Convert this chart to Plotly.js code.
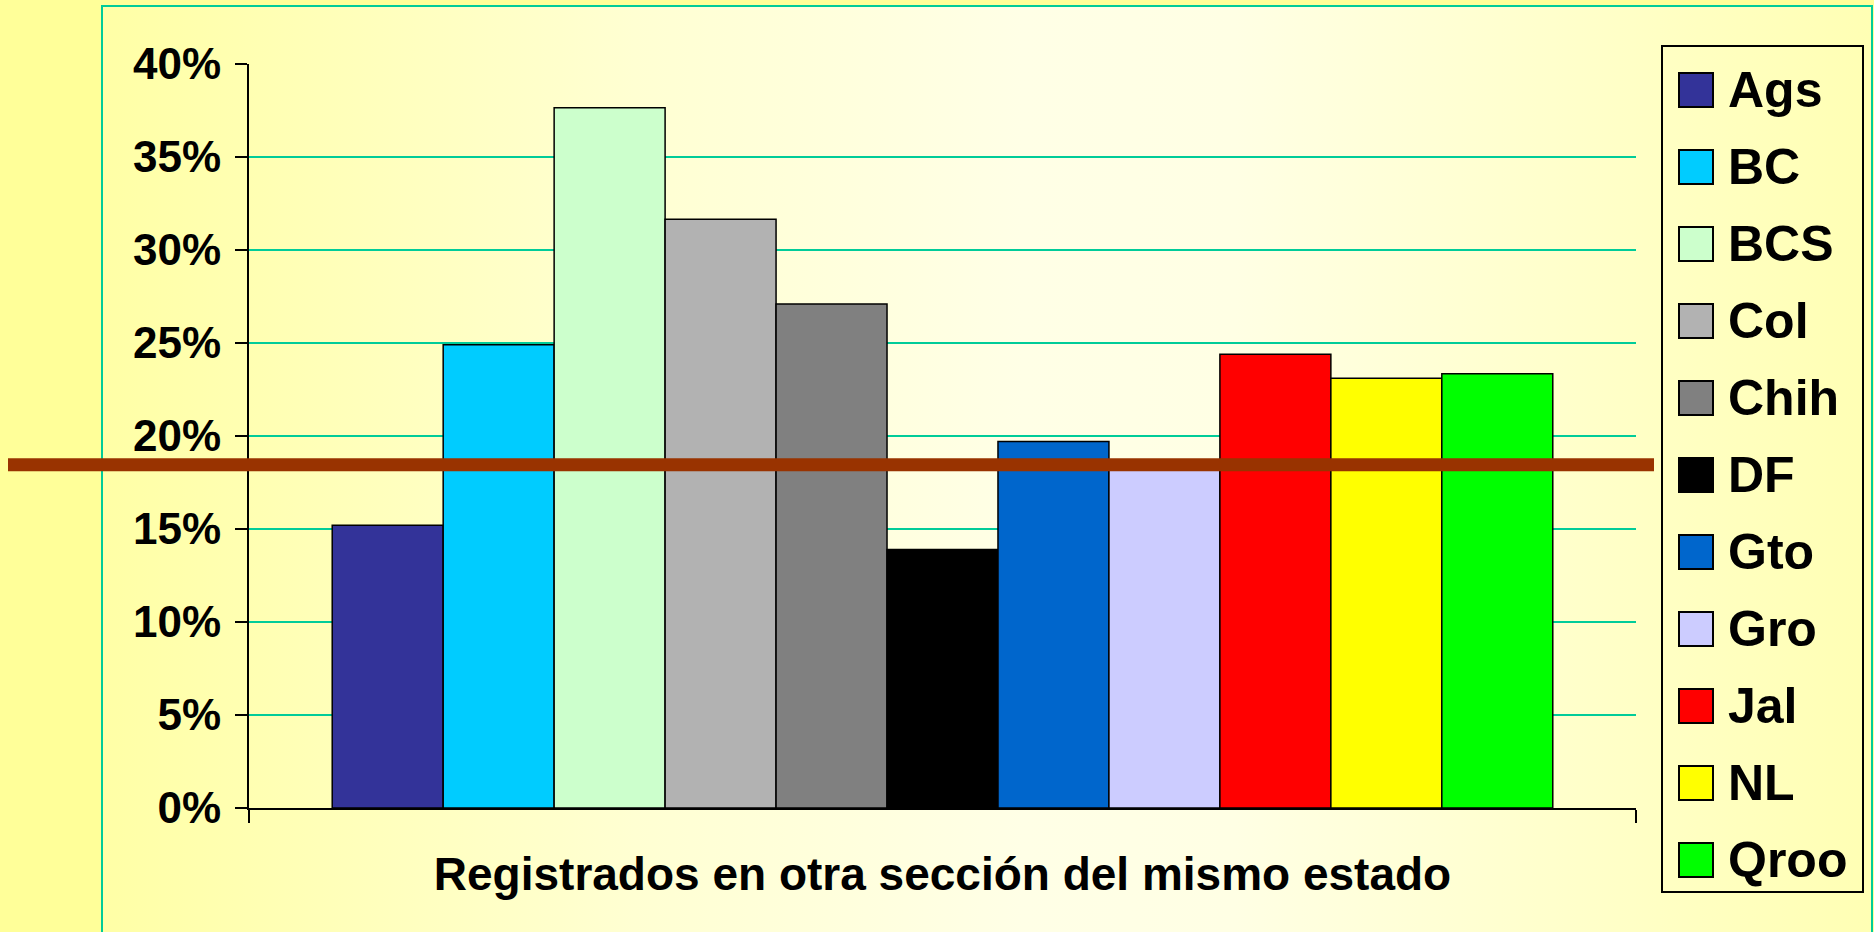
<!DOCTYPE html>
<html>
<head>
<meta charset="utf-8">
<script src="https://cdn.plot.ly/plotly-3.0.1.min.js"></script>
<style>
  html, body { margin: 0; padding: 0; width: 1874px; height: 932px; overflow: hidden; background: #FFFF99; }
  #frame {
    position: absolute; left: 101px; top: 5px; width: 1768px; height: 960px;
    border: 2px solid #00CC99;
    background: linear-gradient(to right, #FFFFA6 0%, #FFFFD2 30%, #FFFFE6 52%, #FFFFE4 64%, #FFFFC4 88%, #FFFFB4 100%);
  }
  #chart { position: absolute; left: 0; top: 0; width: 1874px; height: 932px; }
</style>
</head>
<body>
<div id="frame"></div>
<div id="chart"></div>
<script>
// ---- data ----
const category = ["Registrados en otra sección del mismo estado"];
const states = ["Ags", "BC", "BCS", "Col", "Chih", "DF", "Gto", "Gro", "Jal", "NL", "Qroo"];
const values = [0.152, 0.249, 0.3765, 0.3165, 0.271, 0.139, 0.197, 0.185, 0.244, 0.231, 0.2335];
const colors = ["#333399", "#00CCFF", "#CCFFCC", "#B2B2B2", "#808080", "#000000", "#0066CC", "#CCCCFF", "#FF0000", "#FFFF00", "#00FF00"];
const average = 0.1845;
const yTicks = [0, 0.05, 0.10, 0.15, 0.20, 0.25, 0.30, 0.35, 0.40];

// ---- layout geometry (pixels) ----
const W = 1874, H = 932;
const M = { l: 249, r: 238, t: 64, b: 124 };
const PW = W - M.l - M.r, PH = H - M.t - M.b;
const px = x => (x - M.l) / PW;          // page x -> paper x
const py = y => (H - M.b - y) / PH;      // page y -> paper y
const FONT = "Arial, 'Liberation Sans', sans-serif";

const traces = states.map((s, i) => ({
  type: "bar",
  name: s,
  x: category,
  y: [values[i]],
  marker: { color: colors[i], line: { color: "#000000", width: 1.5 } },
  showlegend: false,
  hovertemplate: s + ": %{y:.1%}<extra></extra>"
}));

// manual legend built from states / colors
const shapes = [];
const annotations = [];
const legTop = 90, legStep = 77;
states.forEach((s, i) => {
  const cy = legTop + i * legStep;
  shapes.push({
    type: "rect", xref: "paper", yref: "paper",
    x0: px(1679), x1: px(1713), y0: py(cy - 17), y1: py(cy + 17),
    fillcolor: colors[i], line: { color: "#000000", width: 2 }
  });
  annotations.push({
    xref: "paper", yref: "paper", x: px(1726), y: py(cy),
    xanchor: "left", yanchor: "middle", showarrow: false,
    text: s, font: { family: FONT, size: 50, color: "#000000", weight: "bold" }
  });
});
// legend box
shapes.push({
  type: "rect", xref: "paper", yref: "paper",
  x0: px(1662), x1: px(1863), y0: py(892), y1: py(46),
  line: { color: "#000000", width: 2 }, fillcolor: "rgba(0,0,0,0)"
});
// average line
shapes.push({
  type: "line", xref: "paper", yref: "y",
  x0: px(8), x1: px(1654), y0: average, y1: average,
  line: { color: "#993300", width: 13 }, layer: "above"
});

const layout = {
  width: W, height: H,
  margin: M,
  paper_bgcolor: "rgba(0,0,0,0)",
  plot_bgcolor: "rgba(0,0,0,0)",
  barmode: "group",
  bargap: 0.12,
  bargroupgap: 0,
  showlegend: false,
  font: { family: FONT, color: "#000000" },
  xaxis: {
    type: "category",
    showline: true, linecolor: "#000000", linewidth: 2,
    ticks: "outside", tickson: "boundaries", ticklen: 13, tickwidth: 2, tickcolor: "#000000",
    showgrid: false, zeroline: false,
    ticklabelstandoff: 25,
    tickfont: { family: FONT, size: 46, color: "#000000", weight: "bold" }
  },
  yaxis: {
    range: [0, 0.4],
    tickvals: yTicks,
    tickformat: ".0%",
    showline: true, linecolor: "#000000", linewidth: 2,
    ticks: "outside", ticklen: 12, tickwidth: 2, tickcolor: "#000000",
    showgrid: true, gridcolor: "#00CC99", gridwidth: 2,
    zeroline: false,
    ticklabelstandoff: 5,
    tickfont: { family: FONT, size: 44, color: "#000000", weight: "bold" }
  },
  shapes: shapes,
  annotations: annotations
};

Plotly.newPlot("chart", traces, layout, { displayModeBar: false, staticPlot: true });
</script>
</body>
</html>
